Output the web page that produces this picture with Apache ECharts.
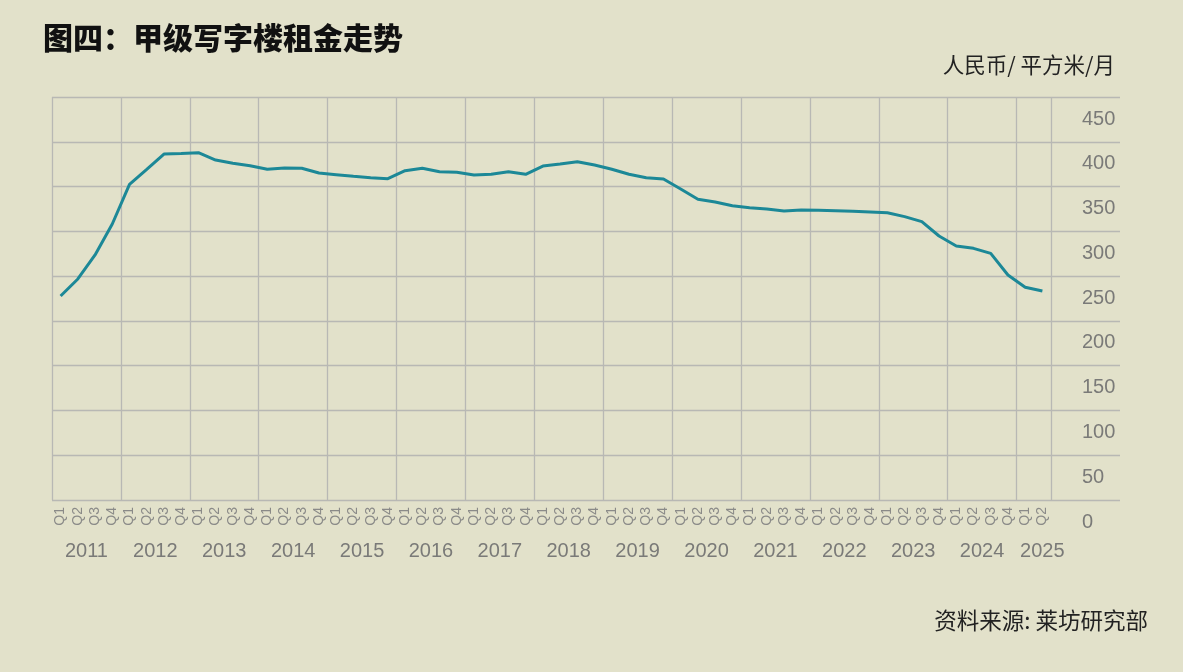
<!DOCTYPE html>
<html><head><meta charset="utf-8">
<script src="https://cdn.jsdelivr.net/npm/echarts@6/dist/echarts.min.js"></script>
<style>html,body{margin:0;padding:0;background:#e2e1ca}#c{width:1183px;height:672px}</style>
</head><body><div id="c"></div>
<script>
// ---- data ----
const years = ['2011','2012','2013','2014','2015','2016','2017','2018','2019','2020','2021','2022','2023','2024','2025'];
const quarterNames = ['Q1','Q2','Q3','Q4'];
// 人民币/平方米/月, 2011Q1 .. 2025Q2
const rent = [
  227.8, 246.8, 273.6, 308.2,
  352.5, 369.3, 386.3, 387.0,
  387.8, 379.6, 376.0, 373.3,
  369.3, 370.7, 370.4, 365.1,
  363.3, 361.5, 359.9, 358.8,
  367.7, 370.4, 366.6, 365.9,
  362.9, 363.7, 366.6, 363.7,
  372.9, 375.2, 377.8, 374.0,
  369.3, 363.7, 359.9, 358.4,
  347.3, 335.8, 332.8, 328.6,
  326.4, 324.9, 322.7, 323.8,
  323.5, 323.0, 322.4, 321.6,
  320.8, 316.4, 310.8, 294.8,
  283.6, 281.0, 275.4, 251.2,
  237.5, 233.4
];
const yMin = 0, yMax = 450, yStep = 50;
const titleText = '图四：甲级写字楼租金走势';
const unitText = '人民币/ 平方米/月';
const sourceText = '资料来源: 莱坊研究部';

// ---- categories ----
const categories = [];
years.forEach(function (y) {
  quarterNames.forEach(function (q, i) {
    if (y !== '2025' || i < 2) categories.push(y + ' ' + q);
  });
});
const nCat = categories.length;            // 58

// year label axis: category boundaries
const boundaryCats = [];
const boundaryLabels = [];
for (let i = 0; i <= nCat; i++) { boundaryCats.push('b' + i); boundaryLabels.push(''); }
years.forEach(function (y, k) {
  if (y === '2025') boundaryLabels[4 * k + 1] = '{r|' + y + '}';
  else boundaryLabels[4 * k + 2] = y;
});

const gridColor = '#b8b8b4';
const labelColor = '#7a7a78';
const latin = "'Liberation Sans', Arial, sans-serif";
const cjk = "'Noto Sans CJK SC', sans-serif";
const gridTop = 97, gridBottom = 172;

const chart = echarts.init(document.getElementById('c'));
chart.setOption({
  backgroundColor: '#e2e1ca',
  animation: false,
  title: {
    text: titleText, left: 43, top: 23, padding: 0,
    textStyle: { fontSize: 30, fontWeight: 900, color: '#111', fontFamily: cjk }
  },
  graphic: [
    { type: 'text', x: 1115, y: 65, style: { text: unitText, fontSize: 21.5, fill: '#222', fontFamily: cjk, textAlign: 'right', textVerticalAlign: 'middle' } },
    { type: 'text', x: 1148, y: 620, style: { text: sourceText, fontSize: 22.5, fill: '#222', fontFamily: cjk, textAlign: 'right', textVerticalAlign: 'middle' } }
  ],
  grid: [
    { left: 52, width: 999, top: gridTop, bottom: gridBottom, containLabel: false },
    { left: 1051, right: 63, top: gridTop, bottom: gridBottom, containLabel: false }
  ],
  xAxis: [
    {
      type: 'category', gridIndex: 0, data: categories, boundaryGap: true,
      axisLine: { show: false }, axisTick: { show: false },
      splitLine: {
        show: true,
        interval: function (i) { return i % 4 === 0; },
        lineStyle: { color: gridColor, width: 1.3 }
      },
      axisLabel: {
        interval: 0, rotate: 90, margin: 7, fontSize: 14, color: '#8a8a88', fontFamily: latin,
        formatter: function (v) { return v.split(' ')[1]; }
      }
    },
    {
      type: 'category', gridIndex: 0, data: boundaryCats, boundaryGap: false, position: 'bottom',
      axisLine: { show: false }, axisTick: { show: false }, splitLine: { show: false },
      axisLabel: {
        interval: 0, margin: 41, fontSize: 20, color: labelColor, fontFamily: latin,
        formatter: function (v, i) { return boundaryLabels[i]; },
        rich: { r: { fontSize: 20, color: labelColor, fontFamily: latin, padding: [0, 0, 0, 17] } }
      }
    },
    { type: 'value', gridIndex: 1, min: 0, max: 1, show: false }
  ],
  yAxis: [
    {
      type: 'value', gridIndex: 0, min: yMin, max: yMax, interval: yStep,
      axisLine: { show: false }, axisTick: { show: false }, axisLabel: { show: false },
      splitLine: { lineStyle: { color: gridColor, width: 1.3 } }
    },
    {
      type: 'value', gridIndex: 1, position: 'right', min: yMin, max: yMax, interval: yStep,
      axisLine: { show: false }, axisTick: { show: false },
      splitLine: { lineStyle: { color: gridColor, width: 1.3 } },
      axisLabel: {
        inside: true, margin: 38, align: 'left', verticalAlign: 'top', lineHeight: 44,
        showMinLabel: true, showMaxLabel: true, hideOverlap: false,
        fontSize: 20, color: labelColor, fontFamily: latin
      }
    }
  ],
  series: [{
    type: 'line', data: rent, xAxisIndex: 0, yAxisIndex: 0, showSymbol: false, symbol: 'none',
    lineStyle: { color: '#1c8897', width: 3 }
  }]
});
</script></body></html>
